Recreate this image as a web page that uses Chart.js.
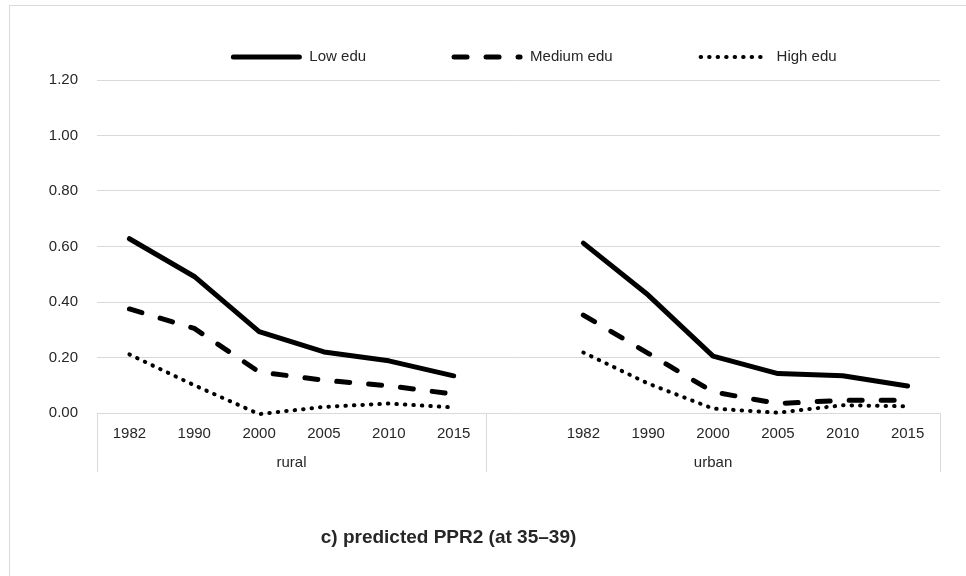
<!DOCTYPE html>
<html><head><meta charset="utf-8">
<script src="https://cdn.jsdelivr.net/npm/chart.js@4/dist/chart.umd.min.js"></script>
<style>html,body{margin:0;padding:0;background:#fff}#wrap{position:relative;width:966px;height:576px}</style>
</head><body><div id="wrap"><canvas id="c" width="966" height="576"></canvas></div>
<script>
const groups = ['rural', 'urban'];
const years = ['1982', '1990', '2000', '2005', '2010', '2015'];
const seriesNames = ['Low edu', 'Medium edu', 'High edu'];
const lowRural  = [0.628, 0.492, 0.293, 0.220, 0.188, 0.134];
const lowUrban  = [0.612, 0.425, 0.205, 0.142, 0.134, 0.097];
const medRural  = [0.375, 0.305, 0.148, 0.118, 0.098, 0.068];
const medUrban  = [0.353, 0.215, 0.076, 0.034, 0.046, 0.046];
const highRural = [0.211, 0.100, -0.004, 0.022, 0.034, 0.020];
const highUrban = [0.218, 0.106, 0.016, 0.001, 0.028, 0.024];
const yTicks = [0, 0.2, 0.4, 0.6, 0.8, 1.0, 1.2];
const titleText = 'c) predicted PPR2 (at 35\u201339)';

const FONT = "'Liberation Sans', Arial, sans-serif";
const TXT = '#262626';
const GRID = '#d9d9d9';

// category labels: rural years, one empty slot, urban years
const labels = [...years, '', ...years];
const join = (r, u) => [...r, null, ...u];
const groupCenters = [(years.length - 1) / 2, (years.length + labels.length - 1) / 2];

const styles = [
  { borderWidth: 5, borderDash: [] },
  { borderWidth: 5, borderDash: [13, 19] },
  { borderWidth: 4, borderDash: [0.5, 8] }
];
const values = [[lowRural, lowUrban], [medRural, medUrban], [highRural, highUrban]];

const datasets = seriesNames.map((name, i) => ({
  label: name,
  data: join(values[i][0], values[i][1]),
  borderColor: '#000',
  backgroundColor: '#000',
  borderWidth: styles[i].borderWidth,
  borderDash: styles[i].borderDash,
  borderCapStyle: 'round',
  borderJoinStyle: 'round',
  pointRadius: 0,
  pointHoverRadius: 0,
  tension: 0,
  spanGaps: false,
  clip: false
}));

const framePlugin = {
  id: 'frame',
  beforeDraw(chart) {
    const ctx = chart.ctx;
    ctx.save();
    ctx.fillStyle = '#fff';
    ctx.fillRect(0, 0, chart.width, chart.height);
    ctx.strokeStyle = GRID;
    ctx.lineWidth = 1;
    ctx.beginPath();
    ctx.moveTo(9.5, chart.height + 2);
    ctx.lineTo(9.5, 5.5);
    ctx.lineTo(chart.width + 2, 5.5);
    ctx.stroke();
    ctx.restore();
  }
};

const groupPlugin = {
  id: 'groupSep',
  afterDraw(chart) {
    const xs = chart.scales.x, x2 = chart.scales.x2;
    const step = (xs.right - xs.left) / labels.length;
    const bounds = [xs.left, xs.left + years.length * step, xs.right];
    const ctx = chart.ctx;
    ctx.save();
    ctx.strokeStyle = GRID;
    ctx.lineWidth = 1;
    ctx.beginPath();
    bounds.forEach(b => {
      const px = Math.round(b) + 0.5;
      ctx.moveTo(px, chart.chartArea.bottom);
      ctx.lineTo(px, x2.bottom);
    });
    ctx.stroke();
    ctx.restore();
  }
};

const legendPlugin = {
  id: 'lineLegend',
  afterDraw(chart) {
    const ctx = chart.ctx;
    const lineLen = 70, gapText = 8, gapItem = 86, cy = 57, center = 534;
    ctx.save();
    ctx.font = '15px ' + FONT;
    const ds = chart.data.datasets;
    const widths = ds.map(d => lineLen + gapText + ctx.measureText(d.label).width);
    const total = widths.reduce((a, b) => a + b, 0) + gapItem * (ds.length - 1);
    let x = center - total / 2;
    ds.forEach((d, i) => {
      ctx.beginPath();
      ctx.strokeStyle = d.borderColor;
      ctx.lineWidth = d.borderWidth;
      ctx.lineCap = 'round';
      ctx.setLineDash(d.borderDash || []);
      ctx.moveTo(x + 2, cy);
      ctx.lineTo(x + lineLen - 2, cy);
      ctx.stroke();
      ctx.setLineDash([]);
      ctx.fillStyle = TXT;
      ctx.textBaseline = 'middle';
      ctx.textAlign = 'left';
      ctx.fillText(d.label, x + lineLen + gapText, cy);
      x += widths[i] + gapItem;
    });
    ctx.restore();
  }
};

const titlePlugin = {
  id: 'bottomTitle',
  afterDraw(chart) {
    const ctx = chart.ctx;
    ctx.save();
    ctx.font = 'bold 19px ' + FONT;
    ctx.fillStyle = TXT;
    ctx.textAlign = 'center';
    ctx.textBaseline = 'middle';
    ctx.fillText(titleText, 448.5, 538);
    ctx.restore();
  }
};

new Chart(document.getElementById('c'), {
  type: 'line',
  data: { labels, datasets },
  options: {
    responsive: false,
    animation: false,
    devicePixelRatio: 1,
    layout: { padding: { top: 80, left: 37, right: 26, bottom: 104 } },
    plugins: { legend: { display: false }, title: { display: false }, tooltip: { enabled: false } },
    scales: {
      x: {
        type: 'category',
        position: 'bottom',
        weight: 0,
        offset: true,
        grid: { display: false, drawTicks: false },
        border: { display: false },
        ticks: { autoSkip: false, maxRotation: 0, padding: 12, color: TXT, font: { family: FONT, size: 15 } },
        afterFit(s) { s.height = 38; }
      },
      x2: {
        type: 'linear',
        position: 'bottom',
        weight: 1,
        min: -0.5,
        max: labels.length - 0.5,
        offset: false,
        grid: { display: false, drawTicks: false },
        border: { display: false },
        afterBuildTicks(s) { s.ticks = groupCenters.map(v => ({ value: v })); },
        ticks: {
          autoSkip: false, maxRotation: 0, padding: 3, color: TXT, font: { family: FONT, size: 15 },
          callback(v) { const i = groupCenters.indexOf(v); return i >= 0 ? groups[i] : ''; }
        },
        afterFit(s) { s.height = 21; }
      },
      y: {
        min: 0,
        max: 1.2,
        afterBuildTicks(s) { s.ticks = yTicks.map(v => ({ value: v })); },
        grid: { color: GRID, lineWidth: 1, drawTicks: false },
        border: { display: false },
        ticks: { padding: 19, color: TXT, font: { family: FONT, size: 15 }, callback: v => Number(v).toFixed(2) },
        afterFit(s) { s.width = 60; }
      }
    }
  },
  plugins: [framePlugin, groupPlugin, legendPlugin, titlePlugin]
});
</script>
</body></html>
